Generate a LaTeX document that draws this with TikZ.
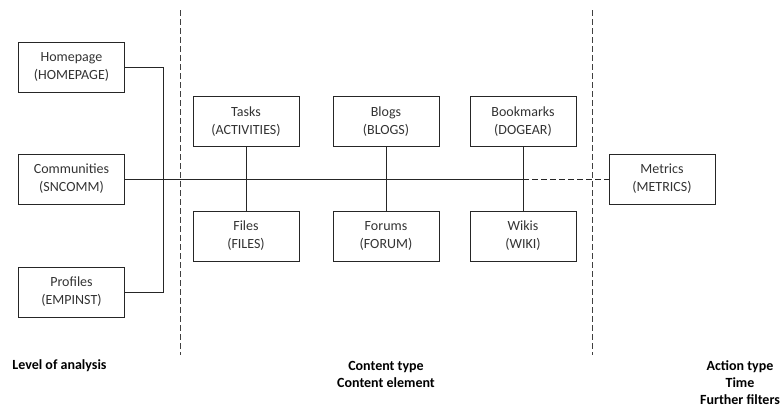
\documentclass[tikz,border=0pt]{standalone}
\usepackage{fontspec}
\setmainfont{Carlito}
\begin{document}
\begin{tikzpicture}[x=1pt,y=-1pt,
  line width=0.9pt,
  box/.style={draw=black!85, rectangle, minimum width=106pt, minimum height=50pt,
    inner sep=0pt, align=center, font=\fontsize{14}{18}\selectfont, text=black!80},
  link/.style={draw=black!85},
  sep/.style={draw=black!75, dash pattern=on 6pt off 3pt},
  caption/.style={font=\bfseries\fontsize{14}{17}\selectfont, align=center, inner sep=0pt}]
\useasboundingbox (0,0) rectangle (781,407);

% column separators
\draw[sep] (180,10) -- (180,355);
\draw[sep] (592,10) -- (592,355);

% level of analysis
\node[box] (hp) at (71.5,67)  {Homepage\\(HOMEPAGE)};
\node[box] (cm) at (71.5,179) {Communities\\(SNCOMM)};
\node[box] (pf) at (71.5,292) {Profiles\\(EMPINST)};

% content types
\node[box] (tk) at (246,121.5) {Tasks\\(ACTIVITIES)};
\node[box] (fl) at (246,236)   {Files\\(FILES)};
\node[box] (bl) at (386,121.5) {Blogs\\(BLOGS)};
\node[box] (fo) at (386,236)   {Forums\\(FORUM)};
\node[box] (bm) at (523,121.5) {Bookmarks\\(DOGEAR)};
\node[box] (wk) at (523,236)   {Wikis\\(WIKI)};

% metrics
\node[box] (mt) at (662,179) {Metrics\\(METRICS)};

% bracket joining the three levels
\coordinate (br) at (163,0);
\draw[link] (hp.east) -- (hp.east -| br) -- (pf.east -| br) -- (pf.east);

% main axis
\coordinate (j) at (bm.south |- cm.east);
\draw[link] (cm.east) -- (j);
\draw[link, dash pattern=on 6pt off 3pt] (j) -- (mt.west);

% vertical pairs
\draw[link] (tk.south) -- (fl.north);
\draw[link] (bl.south) -- (fo.north);
\draw[link] (bm.south) -- (wk.north);

% column captions
\node[caption, anchor=west] (c1) at (12,366) {Level of analysis};
\node[caption] (c2) at (386,374.5) {Content type\\Content element};
\node[caption] (c3) at (740,383) {Action type\\Time\\Further filters};
\end{tikzpicture}
\end{document}
